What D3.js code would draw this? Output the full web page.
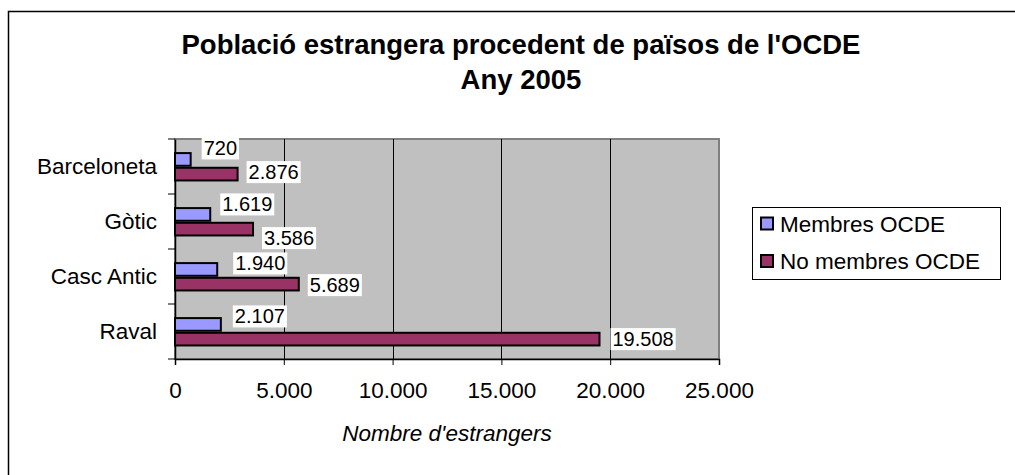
<!DOCTYPE html>
<html>
<head>
<meta charset="utf-8">
<script src="https://cdn.jsdelivr.net/npm/d3@7"></script>
<style>
  html, body { margin: 0; padding: 0; background: #fff; }
  svg { display: block; font-family: "Liberation Sans", Arial, sans-serif; }
</style>
</head>
<body>
<svg id="chart" width="1015" height="475"></svg>
<script>
// ---- data ----
const categories = ["Barceloneta", "Gòtic", "Casc Antic", "Raval"];
const seriesNames = ["Membres OCDE", "No membres OCDE"];
const membres = [720, 1619, 1940, 2107];
const noMembres = [2876, 3586, 5689, 19508];
const xTicks = [0, 5000, 10000, 15000, 20000, 25000];
const titleLines = ["Població estrangera procedent de països de l'OCDE", "Any 2005"];
const xAxisTitle = "Nombre d'estrangers";

// label nudges (style only, px)
const labelDy = [[-11, -2], [-10, 9], [-6, 1], [-8, 0]];
const labelDx = [[1, -1], [0, -1], [6, -1], [2, 1]];

const colors = ["#9999FF", "#993366"];
const locale = d3.formatLocale({ decimal: ",", thousands: ".", grouping: [3], currency: ["", "€"] });
const fmt = locale.format(",d");

const svg = d3.select("#chart");

// chart border (extends beyond canvas right/bottom)
svg.append("rect").attr("x", 8.5).attr("y", 11.5).attr("width", 1100).attr("height", 600)
  .attr("fill", "#fff").attr("stroke", "#000").attr("stroke-width", 1.5);

// title
const title = svg.append("text").attr("text-anchor", "middle").attr("font-weight", "bold")
  .attr("font-size", 27.5).attr("fill", "#000");
titleLines.forEach((t, i) => {
  title.append("tspan").attr("x", 521).attr("y", 54 + i * 35).text(t);
});

// plot area
const plot = { left: 175, right: 719, top: 139, bottom: 359 };
const x = d3.scaleLinear().domain([0, 25000]).range([plot.left, plot.right]);
const y = d3.scaleBand().domain(categories).range([plot.top, plot.bottom]).paddingInner(0).paddingOuter(0);
const bw = y.bandwidth();
const inner = d3.scaleBand().domain([0, 1]).range([bw * 0.238, bw * 0.772]).padding(0);

svg.append("rect").attr("x", plot.left).attr("y", plot.top)
  .attr("width", plot.right - plot.left).attr("height", plot.bottom - plot.top)
  .attr("fill", "#C0C0C0").attr("stroke", "#808080").attr("stroke-width", 2);

// gridlines
svg.append("g").selectAll("line").data(xTicks.slice(1, -1)).join("line")
  .attr("x1", d => Math.round(x(d)) + 0.5).attr("x2", d => Math.round(x(d)) + 0.5)
  .attr("y1", plot.top).attr("y2", plot.bottom)
  .attr("stroke", "#000").attr("stroke-width", 1);

// x axis
const xAxis = d3.axisBottom(x).tickValues(xTicks).tickFormat(fmt).tickSize(6).tickPadding(17);
const gx = svg.append("g").attr("transform", `translate(0,${plot.bottom})`).call(xAxis);
gx.select(".domain").attr("stroke", "#000").attr("stroke-width", 1.5);
gx.selectAll(".tick line").attr("stroke", "#000");
gx.selectAll(".tick text").attr("font-size", 22.5).attr("fill", "#000")
  .attr("font-family", "Liberation Sans, Arial, sans-serif");

// y axis
const yAxis = d3.axisLeft(y).tickSize(0).tickPadding(18);
const gy = svg.append("g").attr("transform", `translate(${plot.left},0)`).call(yAxis);
gy.select(".domain").attr("stroke", "#000").attr("stroke-width", 1.5);
gy.selectAll(".tick text").attr("font-size", 22.5).attr("fill", "#000")
  .attr("font-family", "Liberation Sans, Arial, sans-serif");
// category boundary ticks
svg.append("g").selectAll("line").data(d3.range(categories.length + 1)).join("line")
  .attr("x1", plot.left - 7).attr("x2", plot.left)
  .attr("y1", i => plot.top + i * bw).attr("y2", i => plot.top + i * bw)
  .attr("stroke", "#000").attr("stroke-width", 1);

// bars
const data = categories.map((c, i) => ({ cat: c, vals: [membres[i], noMembres[i]], idx: i }));
const groups = svg.append("g").selectAll("g").data(data).join("g")
  .attr("transform", d => `translate(0,${y(d.cat)})`);
groups.selectAll("rect").data(d => d.vals.map((v, s) => ({ v, s }))).join("rect")
  .attr("x", x(0))
  .attr("y", d => inner(d.s) + 1)
  .attr("width", d => x(d.v) - x(0))
  .attr("height", inner.bandwidth() - 2)
  .attr("fill", d => colors[d.s])
  .attr("stroke", "#000").attr("stroke-width", 2);

// data labels
groups.each(function (d) {
  const g = d3.select(this);
  d.vals.forEach((v, s) => {
    const lx = x(v) + 10 + labelDx[d.idx][s];
    const ly = inner(s) + inner.bandwidth() / 2 + labelDy[d.idx][s];
    const t = g.append("text").attr("x", lx + 2).attr("y", ly)
      .attr("dominant-baseline", "central").attr("font-size", 20).attr("fill", "#000")
      .text(fmt(v));
    const bb = t.node().getBBox();
    g.insert("rect", () => t.node()).attr("x", bb.x - 2).attr("y", bb.y)
      .attr("width", bb.width + 4).attr("height", bb.height).attr("fill", "#fff");
  });
});

// x axis title
svg.append("text").attr("x", (plot.left + plot.right) / 2).attr("y", 433)
  .attr("text-anchor", "middle").attr("dominant-baseline", "central")
  .attr("font-style", "italic").attr("font-size", 22.5).text(xAxisTitle);

// legend
const lg = svg.append("g");
lg.append("rect").attr("x", 752.5).attr("y", 207.5).attr("width", 248).attr("height", 72)
  .attr("fill", "#fff").attr("stroke", "#000").attr("stroke-width", 1);
seriesNames.forEach((n, i) => {
  const cy = 224 + i * 37.5;
  lg.append("rect").attr("x", 761).attr("y", cy - 6.5).attr("width", 12).attr("height", 12)
    .attr("fill", colors[i]).attr("stroke", "#000").attr("stroke-width", 2);
  lg.append("text").attr("x", 780).attr("y", cy).attr("dominant-baseline", "central")
    .attr("font-size", 22.5).text(n);
});
</script>
</body>
</html>
